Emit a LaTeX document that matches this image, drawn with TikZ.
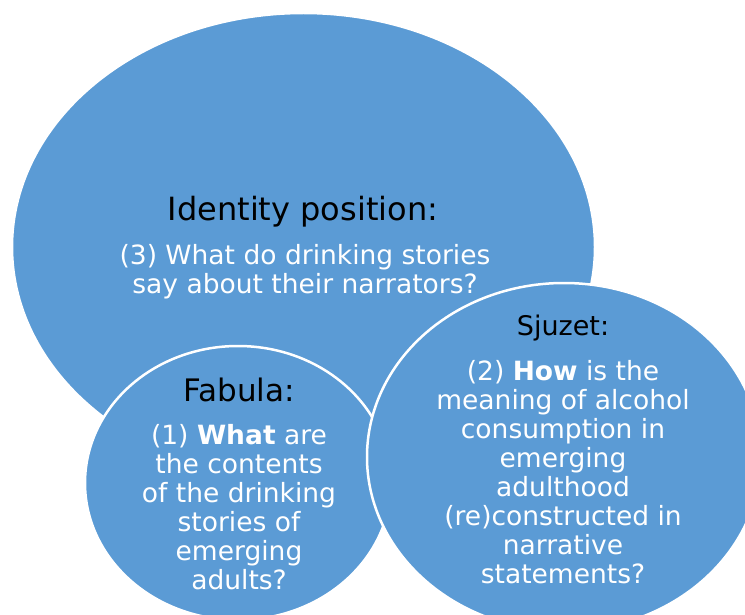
\documentclass[tikz,border=0pt]{standalone}
\usepackage{fontspec}
\setmainfont{DejaVu Sans}
\usetikzlibrary{positioning,shapes.geometric}
\definecolor{ovBlue}{RGB}{91,155,213}
\tikzset{
  bubble/.style={ellipse, fill=ovBlue, draw=white, line width=2.5pt, inner sep=0pt},
  head/.style={text=black, inner sep=0pt},
  body/.style={text=white, align=center, inner sep=0pt, font=\fontsize{26.5}{29}\selectfont}
}
\begin{document}
\begin{tikzpicture}[x=1pt,y=-1pt]
  \clip (0,0) rectangle (745,615);
  % Three overlapping bubbles
  \node[bubble, minimum width=583pt, minimum height=468pt] (identity) at (303.5,247) {};
  \node[bubble, minimum width=306pt, minimum height=274pt] (fabula) at (238,483) {};
  \node[bubble, minimum width=394pt, minimum height=348pt] (sjuzet) at (564,457) {};

  % Identity position
  \node[head, font=\fontsize{32}{36}\selectfont] (idhead) at (303,212) {Identity position:};
  \node[body] (idbody) at (305,272) {(3) What do drinking stories\\say about their narrators?};

  % Fabula
  \node[head, font=\fontsize{31}{34}\selectfont] (fabhead) at (239,390) {Fabula:};
  \node[body] (fabbody) at (239,507) {(1) \textbf{What} are\\the contents\\of the drinking\\stories of\\emerging\\adults?};

  % Sjuzet
  \node[head, font=\fontsize{27}{30}\selectfont] (sjhead) at (563,328) {Sjuzet:};
  \node[body] (sjbody) at (563,472) {(2) \textbf{How} is the\\meaning of alcohol\\consumption in\\emerging\\adulthood\\(re)constructed in\\narrative\\statements?};
\end{tikzpicture}
\end{document}
